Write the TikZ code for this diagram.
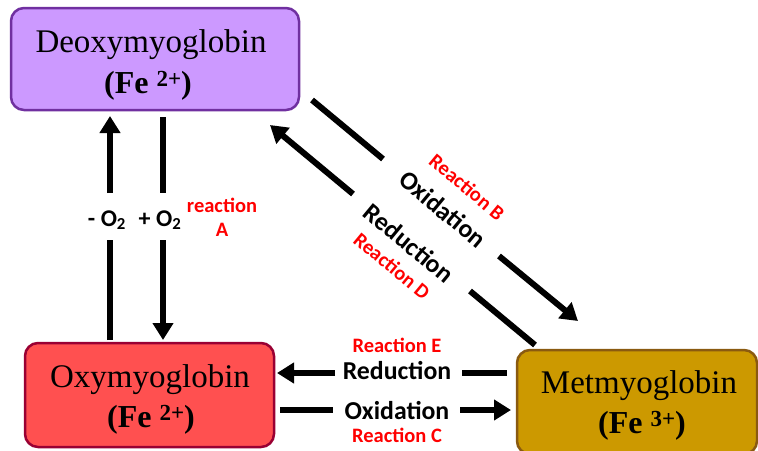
\documentclass[tikz,border=0pt]{standalone}
\usepackage{fontspec}
\setmainfont{Liberation Serif}
\newfontfamily\lblfont{Carlito}
\usetikzlibrary{arrows.meta}
\definecolor{purpleF}{HTML}{CC99FF}
\definecolor{purpleD}{HTML}{7030A0}
\definecolor{redF}{HTML}{FF5050}
\definecolor{redD}{HTML}{990033}
\definecolor{goldF}{HTML}{CC9900}
\definecolor{goldD}{HTML}{8A5A10}
\definecolor{rxred}{HTML}{FF0000}
\newcommand{\fesup}[1]{\raisebox{7pt}{\bfseries\fontsize{23}{23}\selectfont #1}}
\tikzset{
  box/.style={rounded corners=13pt, line width=2.5pt},
  nametext/.style={anchor=base, font=\fontsize{33}{36}\selectfont, inner sep=0pt},
  fetext/.style={anchor=base, font=\bfseries\fontsize{32}{34}\selectfont, inner sep=0pt},
  seg/.style={line width=6pt},
  segarrow/.style={line width=6pt, -{Triangle[length=17pt,width=20pt]}},
  olabel/.style={font=\lblfont\bfseries\fontsize{24}{26}\selectfont, inner sep=0pt},
  blabel/.style={font=\lblfont\bfseries\fontsize{25.8}{28}\selectfont, inner sep=0pt},
  rlabel/.style={font=\lblfont\bfseries\fontsize{20.5}{24}\selectfont, text=rxred, inner sep=0pt, align=center},
}
\begin{document}
\begin{tikzpicture}[x=1pt,y=-1pt]
\useasboundingbox (0,0) rectangle (758,450);
% boxes
\node[box, draw=purpleD, fill=purpleF, minimum width=288pt, minimum height=102pt] (deoxy) at (155,59) {};
\node[nametext] (deoxyT) at (151,52) {Deoxymyoglobin};
\node[fetext] (deoxyF) at (148,93) {(Fe \fesup{2+})};
\node[box, draw=redD, fill=redF, minimum width=249pt, minimum height=104pt] (oxy) at (149.5,395) {};
\node[nametext] (oxyT) at (150,387) {Oxymyoglobin};
\node[fetext] (oxyF) at (151,427) {(Fe \fesup{2+})};
\node[box, draw=goldD, fill=goldF, minimum width=240pt, minimum height=104pt] (met) at (637,402) {};
\node[nametext] (metT) at (639,393) {Metmyoglobin};
\node[fetext] (metF) at (642,433) {(Fe \fesup{3+})};
% connector points
\coordinate (u1) at (110,340); \coordinate (u2) at (110,240);
\coordinate (u3) at (110,193); \coordinate (u4) at (110,116);
\coordinate (d1) at (163,117); \coordinate (d2) at (163,193);
\coordinate (d3) at (163,240); \coordinate (d4) at (163,340);
\coordinate (b1) at (312,100); \coordinate (b2) at (383,159);
\coordinate (b3) at (499,256); \coordinate (b4) at (578,321);
\coordinate (r1) at (535,345); \coordinate (r2) at (470,291);
\coordinate (r3) at (353,194); \coordinate (r4) at (270,125);
\coordinate (e1) at (507,373); \coordinate (e2) at (462,373);
\coordinate (e3) at (335,373); \coordinate (e4) at (277,373);
\coordinate (c1) at (280,410); \coordinate (c2) at (333,410);
\coordinate (c3) at (460,410); \coordinate (c4) at (511,410);
% arrows
\draw[seg] (u1) -- (u2); \draw[segarrow] (u3) -- (u4);
\draw[seg] (d1) -- (d2); \draw[segarrow] (d3) -- (d4);
\draw[seg] (b1) -- (b2); \draw[segarrow] (b3) -- (b4);
\draw[seg] (r1) -- (r2); \draw[segarrow] (r3) -- (r4);
\draw[seg] (e1) -- (e2); \draw[segarrow] (e3) -- (e4);
\draw[seg] (c1) -- (c2); \draw[segarrow] (c3) -- (c4);
% labels
\node[olabel] (mo2) at (107,220) {- O\textsubscript{2}};
\node[olabel] (po2) at (160,220) {+ O\textsubscript{2}};
\node[rlabel] (rxA) at (222,217) {reaction\\A};
\node[blabel, rotate=-39.7] (oxB) at (443,209) {Oxidation};
\node[rlabel, rotate=-39.7] (rxB) at (467,187) {Reaction B};
\node[blabel, rotate=-39.7] (redD) at (409,243) {Reduction};
\node[rlabel, rotate=-39.7] (rxD) at (392,266) {Reaction D};
\node[blabel] (redE) at (397,371) {Reduction};
\node[rlabel] (rxE) at (397,345) {Reaction E};
\node[blabel] (oxC) at (397,411) {Oxidation};
\node[rlabel] (rxC) at (397,435) {Reaction C};
\end{tikzpicture}
\end{document}
